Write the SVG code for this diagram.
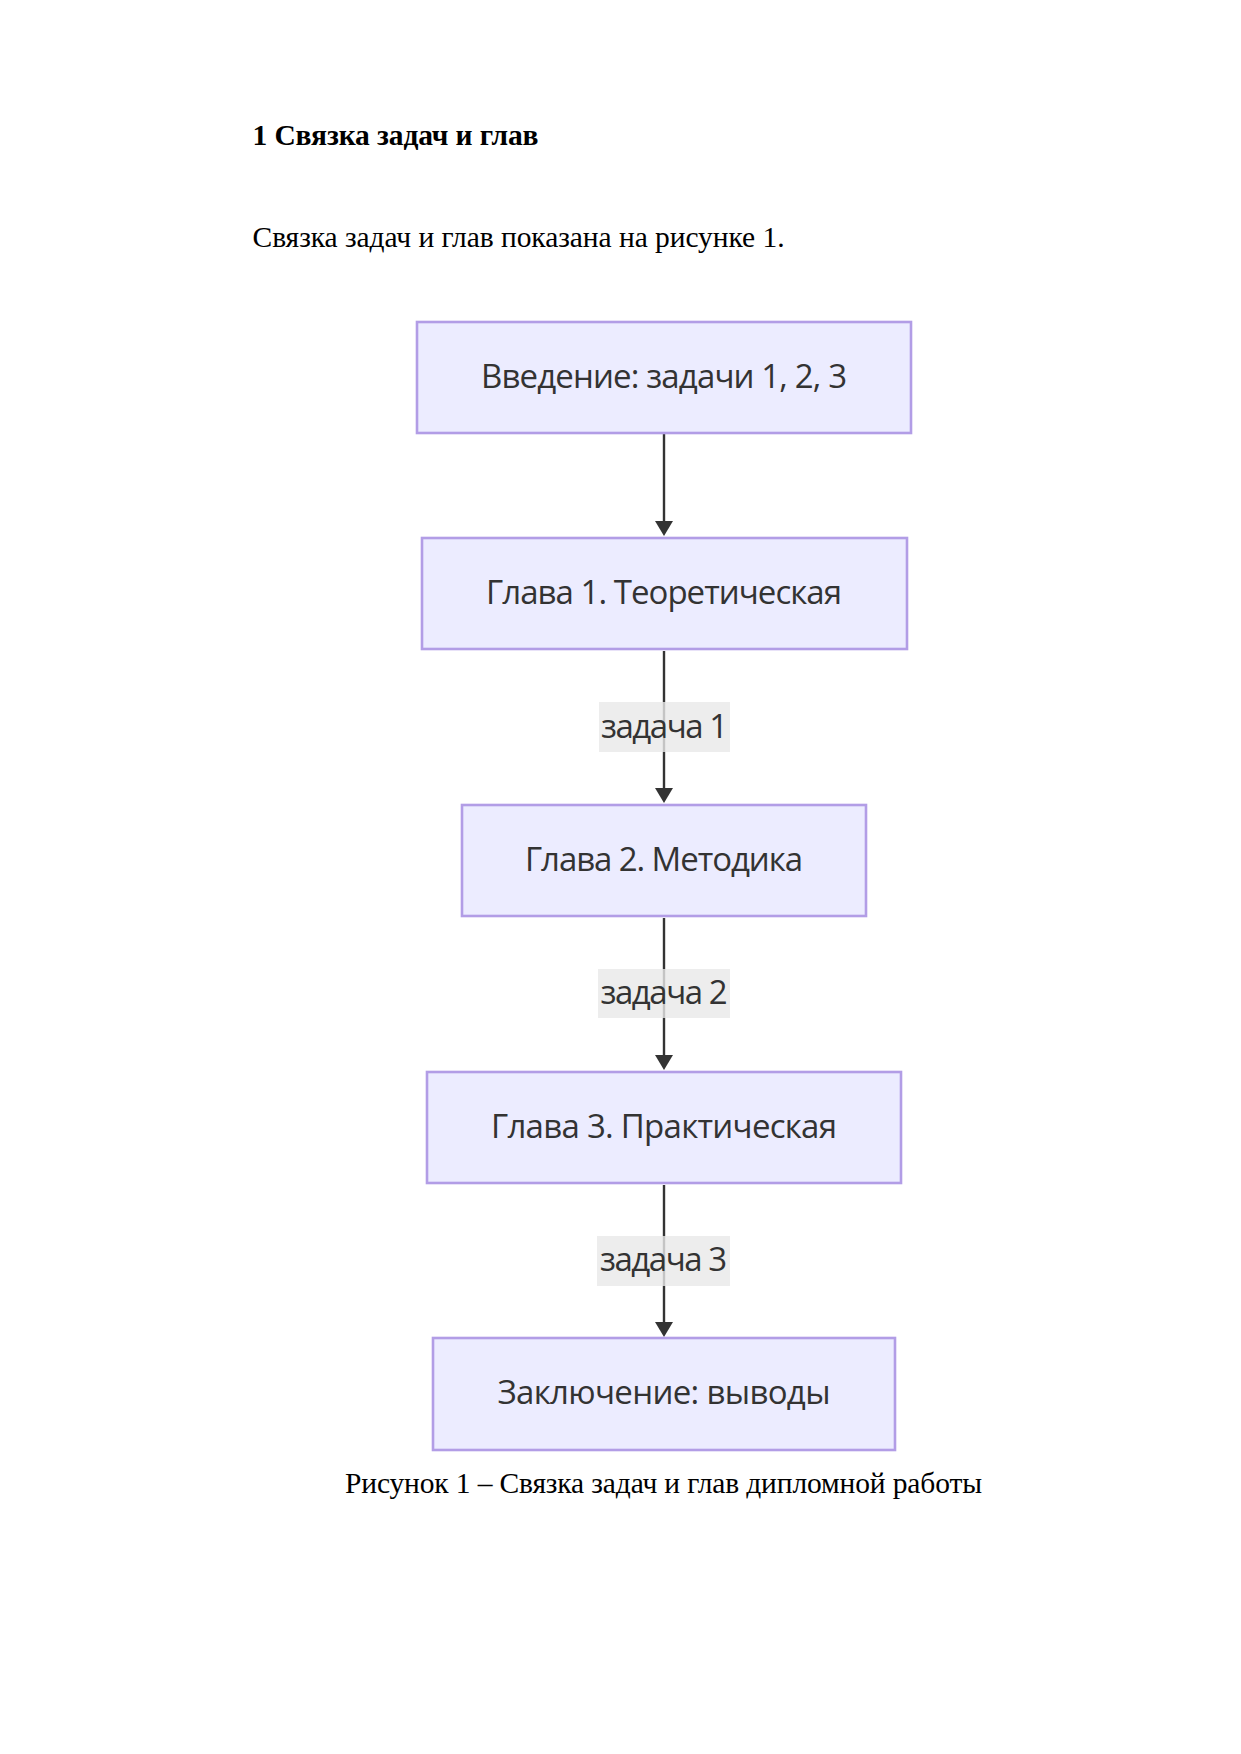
<svg xmlns="http://www.w3.org/2000/svg" width="1241" height="1754" viewBox="0 0 1241 1754">
<defs>
<style>
.serif{font-family:"Liberation Serif","Times New Roman",serif;font-size:29.5px;fill:#000}
.bold{font-weight:bold}
.node rect{fill:#ECECFF;stroke:#B29DE6;stroke-width:2.6}
.ntext{font-family:"Open Sans","Noto Sans","DejaVu Sans",sans-serif;font-size:33px;fill:#333;text-anchor:middle}
.edge{stroke:#333;stroke-width:2.4;fill:none}
.lbg{fill:#E8E8E8;fill-opacity:0.8}
</style>
<marker id="arrow" viewBox="0 0 10 10" refX="4.7" refY="5" markerWidth="15" markerHeight="18" markerUnits="userSpaceOnUse" orient="auto" preserveAspectRatio="none">
<path d="M0,0 L10,5 L0,10 z" fill="#333"/>
</marker>
</defs>
<rect x="0" y="0" width="1241" height="1754" fill="#FFFFFF"/>

<text class="serif bold" x="252.5" y="145" textLength="286">1 Связка задач и глав</text>
<text class="serif" x="252.5" y="246.7" textLength="532">Связка задач и глав показана на рисунке 1.</text>

<g id="connectors">
<path class="edge" d="M664,434 L664,528" marker-end="url(#arrow)"/>
<path class="edge" d="M664,651 L664,795" marker-end="url(#arrow)"/>
<path class="edge" d="M664,918 L664,1062" marker-end="url(#arrow)"/>
<path class="edge" d="M664,1185 L664,1329" marker-end="url(#arrow)"/>
</g>

<g id="label1">
<rect class="lbg" x="599" y="702" width="131" height="50"/>
<text class="ntext" x="664.5" y="738" textLength="127">задача 1</text>
</g>
<g id="label2">
<rect class="lbg" x="598" y="969" width="132" height="49"/>
<text class="ntext" x="664" y="1004" textLength="127">задача 2</text>
</g>
<g id="label3">
<rect class="lbg" x="597" y="1236" width="133" height="50"/>
<text class="ntext" x="663.5" y="1270.5" textLength="127">задача 3</text>
</g>

<g id="node1" class="node">
<rect x="417" y="322" width="494" height="111"/>
<text class="ntext" x="664" y="387.5" textLength="366">Введение: задачи 1, 2, 3</text>
</g>
<g id="node2" class="node">
<rect x="422" y="538" width="485" height="111"/>
<text class="ntext" x="664" y="603.5" textLength="356">Глава 1. Теоретическая</text>
</g>
<g id="node3" class="node">
<rect x="462" y="805" width="404" height="111"/>
<text class="ntext" x="664" y="870.5" textLength="278">Глава 2. Методика</text>
</g>
<g id="node4" class="node">
<rect x="427" y="1072" width="474" height="111"/>
<text class="ntext" x="664" y="1137.5" textLength="346">Глава 3. Практическая</text>
</g>
<g id="node5" class="node">
<rect x="433" y="1338" width="462" height="112"/>
<text class="ntext" x="664" y="1403.5" textLength="333">Заключение: выводы</text>
</g>

<text class="serif" x="345" y="1493.3" textLength="637">Рисунок 1 – Связка задач и глав дипломной работы</text>
</svg>
